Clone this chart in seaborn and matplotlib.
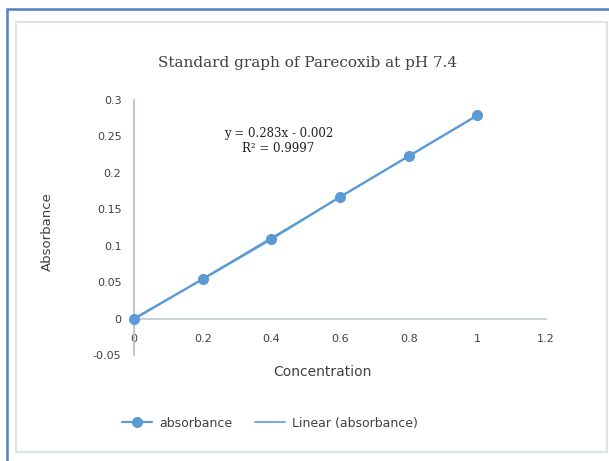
import pandas as pd
import seaborn as sns
import matplotlib.pyplot as plt
from matplotlib.patches import Rectangle

sns.set_theme(style='white')

concentration = [0, 0.2, 0.4, 0.6, 0.8, 1.0]
absorbance = [0.0, 0.054, 0.109, 0.167, 0.223, 0.279]
x_ticks = [0, 0.2, 0.4, 0.6, 0.8, 1, 1.2]
x_tick_labels = ['0', '0.2', '0.4', '0.6', '0.8', '1', '1.2']
y_ticks = [-0.05, 0, 0.05, 0.1, 0.15, 0.2, 0.25, 0.3]
y_tick_labels = ['-0.05', '0', '0.05', '0.1', '0.15', '0.2', '0.25', '0.3']
equation = 'y = 0.283x - 0.002\nR² = 0.9997'

df = pd.DataFrame({'Concentration': concentration, 'Absorbance': absorbance})
blue = '#5B9BD5'
txt = '#404040'

fig = plt.figure(figsize=(6.09, 4.61), dpi=100)
# outer blue frame and inner grey chart frame
fig.patches.append(Rectangle((7/609, -0.1), 1.2, 1 - 9/461 + 0.1, transform=fig.transFigure,
                             fill=False, edgecolor='#4F81BD', linewidth=1.8))
fig.patches.append(Rectangle((16/609, 1 - 452/461), 591/609, 430/461, transform=fig.transFigure,
                             fill=False, edgecolor='#DDE3EA', linewidth=1.5))

ax = fig.add_axes([134/609, 1 - 355/461, 412/609, 255/461])

sns.regplot(data=df, x='Concentration', y='Absorbance', scatter=False, ci=None,
            color=blue, line_kws={'linewidth': 1.2}, ax=ax, label='Linear (absorbance)')
sns.lineplot(data=df, x='Concentration', y='Absorbance', color=blue, marker='o',
             markersize=8, markeredgewidth=0, linewidth=1.6, ax=ax, label='absorbance')
for ln in ax.lines:
    ln.set_clip_on(False)
    ln.set_zorder(5)

ax.set_xlim(0, 1.2)
ax.set_ylim(-0.05, 0.3)
ax.set_xticks(x_ticks)
ax.set_xticklabels(x_tick_labels)
ax.set_yticks(y_ticks)
ax.set_yticklabels(y_tick_labels)
ax.tick_params(axis='x', length=0, pad=11, labelsize=8, labelcolor=txt)
ax.tick_params(axis='y', length=0, pad=9, labelsize=8, labelcolor=txt)

for s in ['top', 'right']:
    ax.spines[s].set_visible(False)
ax.spines['bottom'].set_position(('data', 0))
ax.spines['bottom'].set_color('#BFC8D4')
ax.spines['left'].set_color('#AFBCCB')
ax.spines['bottom'].set_linewidth(1.2)
ax.spines['left'].set_linewidth(1.2)

handles, labels = ax.get_legend_handles_labels()
ax.get_legend().remove()
ax.set_xlabel('')
ax.set_ylabel('')
fig.text(322/609, 1 - 372/461, 'Concentration', ha='center', va='center', fontsize=10, color=txt)
fig.text(47/609, 1 - 232/461, 'Absorbance', ha='center', va='center', rotation=90,
         fontsize=9.5, color=txt)
fig.text(308/609, 1 - 63/461, 'Standard graph of Parecoxib at pH 7.4', ha='center', va='center',
         fontsize=11, color=txt, family='DejaVu Serif')

ax.text(0.42, 0.244, equation, ha='center', va='center', fontsize=8.5, color='#222222',
        family='DejaVu Serif', linespacing=1.2)

order = [labels.index('absorbance'), labels.index('Linear (absorbance)')]
fig.legend([handles[i] for i in order], [labels[i] for i in order],
           loc='center', bbox_to_anchor=(270/609, 1 - 423/461), ncol=2, frameon=False,
           fontsize=9, labelcolor=txt, handlelength=2.4, handletextpad=0.6,
           columnspacing=1.8)

fig.savefig('out.png', dpi=100)
